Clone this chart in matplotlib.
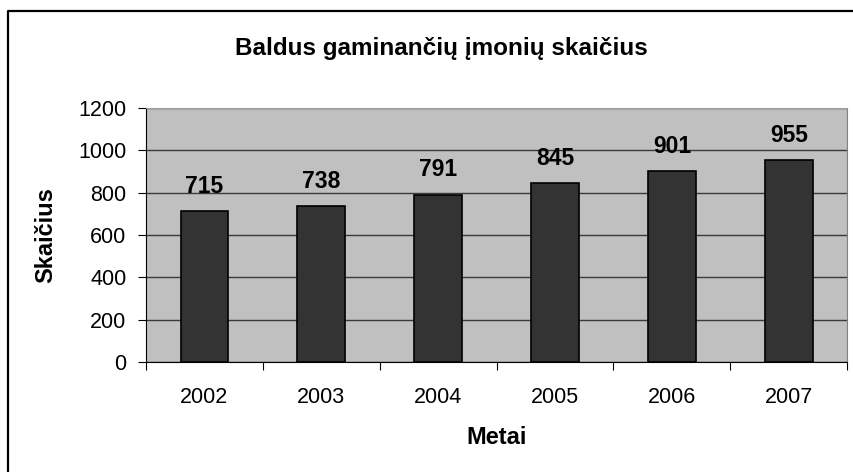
import numpy as np
import matplotlib
matplotlib.use("Agg")
import matplotlib.pyplot as plt
from matplotlib.lines import Line2D

years = ["2002", "2003", "2004", "2005", "2006", "2007"]
counts = [715, 738, 791, 845, 901, 955]

plt.rcParams['font.family'] = ['Liberation Sans', 'DejaVu Sans']

fig = plt.figure(figsize=(8.54, 4.72), dpi=100)
ax = fig.add_axes([0.171, 0.233, 0.821, 0.538])
ax.set_facecolor('#c0c0c0')

x = np.arange(len(years))
ax.bar(x, counts, width=0.41, color='#333333', edgecolor='black',
       linewidth=1.2, zorder=3)
for xi, v in zip(x, counts):
    ax.annotate(str(v), (xi, v), xytext=(0, 9.5), textcoords='offset points',
                ha='center', va='bottom', fontsize=16.5, fontweight='bold', zorder=4)

ax.set_ylim(0, 1200)
ax.set_xlim(-0.5, len(years) - 0.5)
ax.set_yticks(range(0, 1201, 200))
ax.yaxis.grid(True, color='#3a3a3a', linewidth=1.0, zorder=1)
ax.set_axisbelow(True)

# ticks on category boundaries, labels centred on the bars
ax.set_xticks(np.arange(-0.5, len(years)))
ax.set_xticklabels([])
ax.set_xticks(x, minor=True)
ax.set_xticklabels(years, minor=True)
ax.tick_params(axis='x', which='major', direction='out', length=6, width=0.8)
ax.tick_params(axis='x', which='minor', length=0, pad=18, labelsize=15.5)
ax.tick_params(axis='y', direction='out', length=6, width=0.8, labelsize=15.5, pad=8)

ax.spines['top'].set_color('#a0a0a0')
ax.spines['right'].set_color('#808080')
for s in ['left', 'bottom']:
    ax.spines[s].set_color('black')

fig.text(441 / 854, 1 - 48 / 472, "Baldus gaminančių įmonių skaičius",
         ha='center', va='center', fontsize=17.5, fontweight='bold')
fig.text(497 / 854, 1 - 437 / 472, "Metai", ha='center', va='center',
         fontsize=17, fontweight='bold')
fig.text(46 / 854, 1 - 235 / 472, "Skaičius", ha='center', va='center',
         rotation=90, fontsize=17, fontweight='bold')

# chart frame: only the left and top edges fall inside the picture
fig.lines.append(Line2D([8 / 854, 8 / 854, 1.0], [0.0, 1 - 11 / 472, 1 - 11 / 472],
                        transform=fig.transFigure, color='black', linewidth=1.6))

fig.savefig("out.png", dpi=100)
